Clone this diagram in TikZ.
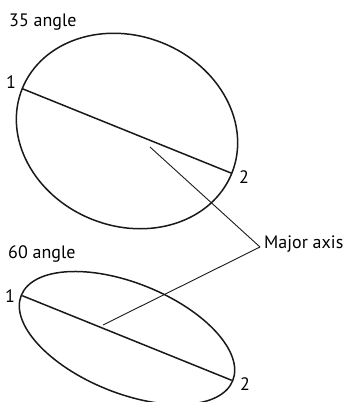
\documentclass[tikz,border=0pt]{standalone}
\usepackage{fontspec}
\setmainfont{PT Sans}
\usetikzlibrary{positioning}
\begin{document}
\begin{tikzpicture}[x=1pt,y=-1pt, lbl/.style={inner sep=0pt,font=\fontsize{18}{20}\selectfont,anchor=base}, rim/.style={line width=1.5pt,black!90}, axis/.style={line width=1.5pt,black!90}, lead/.style={line width=0.9pt,black!90}]
  \useasboundingbox (0,0) rectangle (344,402);
  % upper ellipse
  \begin{scope}[shift={(127,131)},rotate=-22]
    \draw[rim](0,0) ellipse [x radius=113pt,y radius=95pt];
    \coordinate(t1) at (-113,0); \coordinate(t2) at (113,0);
  \end{scope}
  % lower ellipse
  \begin{scope}[shift={(127,338)},rotate=-22]
    \draw[rim](0,0) ellipse [x radius=114pt,y radius=55pt];
    \coordinate(b1) at (-113,0); \coordinate(b2) at (113,0);
  \end{scope}
  \foreach \a/\b in {t1/t2,b1/b2}{\draw[axis](\a)--(\b);}
  \node[lbl,anchor=base west](tt) at (9,26){35 angle};
  \node[lbl,anchor=base west](bt) at (8,258){60 angle};
  \node[lbl](n1) at (11,88){1};
  \node[lbl](n2) at (244,183){2};
  \node[lbl](n3) at (10,302){1};
  \node[lbl](n4) at (245,390){2};
  % leaders
  \coordinate(apex) at (260,247);
  \coordinate(m1) at (150,147);
  \coordinate(m2) at (103,325);
  \node[lbl,anchor=base west](ax) at (264,248){Major axis};
  \foreach \p in {m1,m2}{\draw[lead](\p)--(apex);}
\end{tikzpicture}
\end{document}
